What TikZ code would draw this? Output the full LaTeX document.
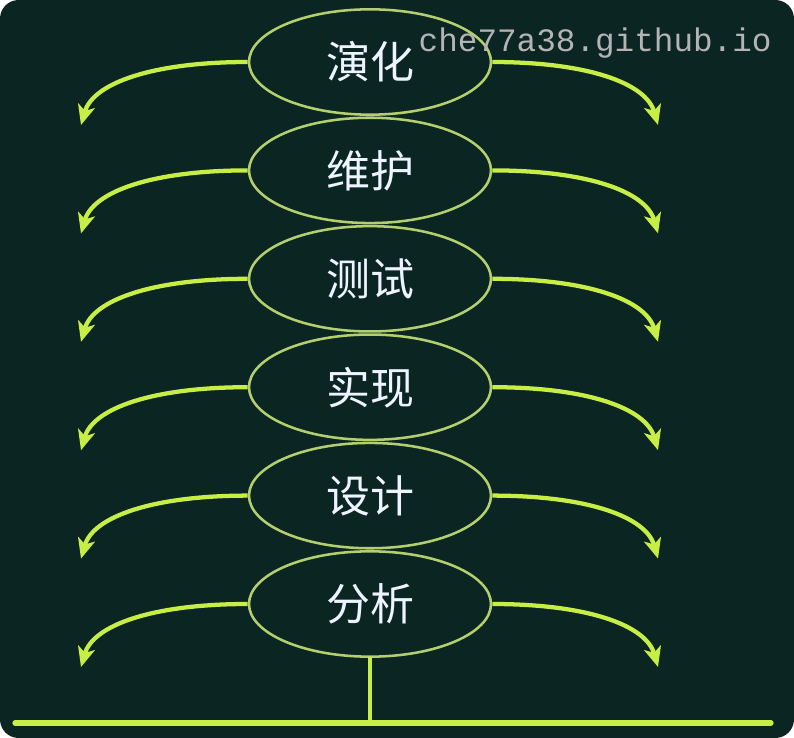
\documentclass[tikz,border=0pt]{standalone}
\usepackage{fontspec}
\newfontfamily\cjk{Noto Sans CJK SC}
\newfontfamily\wmfont{Liberation Mono}
\usetikzlibrary{shapes.geometric,arrows.meta,calc}
\definecolor{bgc}{HTML}{0B2522}
\definecolor{arrc}{HTML}{C6EE45}
\definecolor{elc}{HTML}{B4CF6E}
\definecolor{txc}{HTML}{EEF4FF}
\definecolor{wmc}{HTML}{B4B4B4}
\tikzset{
  stage/.style={ellipse, draw=elc, line width=1.9pt, minimum width=181.5pt, minimum height=79pt, inner sep=0pt,
    text=txc, font=\cjk\fontsize{33}{33}\selectfont},
  flow/.style={draw=arrc, line width=3.2pt, -{Stealth[length=15pt,width=13pt,inset=4pt]}},
  base/.style={draw=arrc, line cap=round}
}
\begin{document}
\begin{tikzpicture}[x=0.75pt,y=-0.75pt]
\useasboundingbox (0,0) rectangle (794,738);
\fill[white] (0,0) rectangle (794,738);
\fill[bgc, rounded corners=14pt] (0,0) rectangle (794,738);
\foreach \name/\lab [count=\i from 0] in {yh/演化,wh/维护,cs/测试,sx/实现,sj/设计,fx/分析}{
  \node[stage] (\name) at (370,{62+108.4*\i}) {\lab};
  \coordinate (\name L) at (81,{125+108.4*\i});
  \coordinate (\name R) at (658,{125+108.4*\i});
  \draw[flow] (\name.west) .. controls ($(\name.west)+(-95,0)$) and ($(\name L)+(12,-42)$) .. (\name L);
  \draw[flow] (\name.east) .. controls ($(\name.east)+(95,0)$) and ($(\name R)+(-12,-42)$) .. (\name R);
}
\coordinate (bl) at (15,723);
\coordinate (br) at (771,723);
\coordinate (bm) at (370,723);
\draw[base, line width=4pt] (bl) -- (br);
\draw[base, line width=2.4pt] (fx.south) -- (bm);
\node[text=wmc, font=\wmfont\fontsize{24.5}{24.5}\selectfont, anchor=base west] (wm) at (414,52) {che77a38.github.io};
\end{tikzpicture}
\end{document}
